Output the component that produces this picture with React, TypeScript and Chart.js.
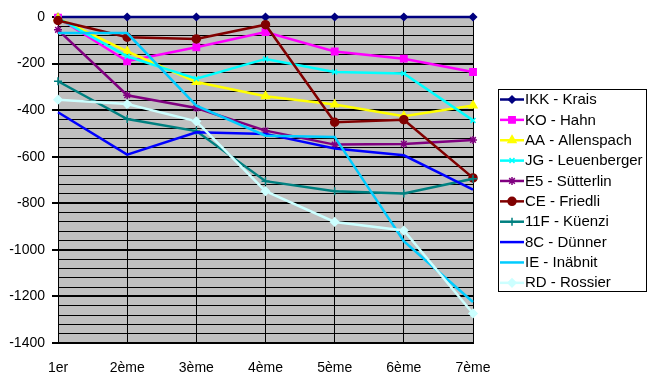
import React, { useEffect, useRef } from "react";
import { Chart, registerables } from "chart.js";
import { drawPoint } from "chart.js/helpers";

Chart.register(...registerables);

const categories = ["1er", "2ème", "3ème", "4ème", "5ème", "6ème", "7ème"];

const seriesNames = [
  "IKK - Krais",
  "KO - Hahn",
  "AA - Allenspach",
  "JG - Leuenberger",
  "E5 - Sütterlin",
  "CE - Friedli",
  "11F - Küenzi",
  "8C - Dünner",
  "IE - Inäbnit",
  "RD - Rossier",
];

const ikk = [0, 0, 0, 0, 0, 0, 0];
const ko = [-3, -190, -130, -65, -148, -179, -236];
const aa = [-5, -148, -279, -340, -376, -426, -380];
const jg = [-5, -169, -265, -180, -236, -243, -444];
const e5 = [-55, -336, -391, -488, -548, -545, -528];
const ce = [-15, -87, -94, -33, -452, -441, -691];
const f11 = [-276, -438, -490, -705, -748, -758, -695];
const c8 = [-409, -591, -495, -502, -565, -594, -741];
const ie = [-69, -69, -381, -510, -515, -963, -1224];
const rd = [-355, -374, -448, -748, -880, -917, -1273];

const seriesValues = [ikk, ko, aa, jg, e5, ce, f11, c8, ie, rd];

const seriesColors = [
  "#000080",
  "#FF00FF",
  "#FFFF00",
  "#00FFFF",
  "#800080",
  "#800000",
  "#008080",
  "#0000FF",
  "#00CCFF",
  "#CCFFFF",
];

const seriesMarkers: (string | false)[] = [
  "rectRot",
  "rect",
  "triangle",
  "crossRot",
  "star",
  "circle",
  "cross",
  false,
  false,
  "rectRot",
];

const markerRadius = [3.5, 4.5, 4.5, 3.5, 4, 4, 4, 0, 0, 4];

const yTickValues = [0, -200, -400, -600, -800, -1000, -1200, -1400];

const FONT = "'Liberation Sans', Arial, sans-serif";

const plotBg = {
  id: "plotBg",
  beforeDraw(chart: any) {
    const { ctx, chartArea } = chart;
    ctx.save();
    ctx.fillStyle = "#C0C0C0";
    ctx.fillRect(chartArea.left, chartArea.top, chartArea.right - chartArea.left, chartArea.bottom - chartArea.top);
    ctx.restore();
  },
};

const customLegend = {
  id: "customLegend",
  afterDraw(chart: any) {
    const ctx = chart.ctx;
    const x0 = 498.5;
    const y0 = 89.5;
    const w = 148;
    const h = 202;
    ctx.save();
    ctx.fillStyle = "#FFFFFF";
    ctx.fillRect(x0, y0, w, h);
    ctx.strokeStyle = "#000000";
    ctx.lineWidth = 1;
    ctx.strokeRect(x0, y0, w, h);
    ctx.font = "15px " + FONT;
    ctx.textBaseline = "middle";
    ctx.textAlign = "left";
    chart.data.datasets.forEach((ds: any, i: number) => {
      const cy = 99.5 + i * 20.37;
      ctx.strokeStyle = ds.borderColor;
      ctx.lineWidth = 2.5;
      ctx.beginPath();
      ctx.moveTo(500, cy);
      ctx.lineTo(524, cy);
      ctx.stroke();
      if (ds.pointStyle) {
        ctx.fillStyle = ds.borderColor;
        ctx.strokeStyle = ds.borderColor;
        ctx.lineWidth = 1.5;
        drawPoint(
          ctx,
          {
            pointStyle: ds.pointStyle,
            radius: ds.pointRadius,
            rotation: 0,
            borderWidth: 1.5,
          } as any,
          512,
          cy
        );
      }
      ctx.fillStyle = "#000000";
      ctx.fillText(ds.label, 525, cy + 0.5);
    });
    ctx.restore();
  },
};

export default function App() {
  const canvasRef = useRef<HTMLCanvasElement | null>(null);

  useEffect(() => {
    if (!canvasRef.current) return;
    Chart.defaults.font.family = FONT;
    const datasets = seriesNames.map((name, i) => ({
      label: name,
      data: seriesValues[i],
      borderColor: seriesColors[i],
      backgroundColor: seriesColors[i],
      borderWidth: 2.5,
      pointStyle: seriesMarkers[i] as any,
      pointRadius: markerRadius[i],
      pointBorderWidth: 1.5,
      pointBorderColor: seriesColors[i],
      pointBackgroundColor: seriesColors[i],
      tension: 0,
      clip: false as any,
      order: -i,
    }));

    const chart = new Chart(canvasRef.current, {
      type: "line",
      data: { labels: categories, datasets },
      plugins: [plotBg, customLegend],
      options: {
        animation: false,
        responsive: false,
        devicePixelRatio: 1,
        layout: { padding: { top: 17, right: 183, bottom: 0, left: 0 } },
        plugins: {
          legend: { display: false },
          tooltip: { enabled: false },
        },
        scales: {
          x: {
            type: "category",
            offset: false,
            afterFit(scale: any) {
              scale.height = 41;
            },
            grid: {
              color: "#000000",
              lineWidth: 1,
              drawTicks: false,
            },
            border: { color: "#000000", width: 2 },
            ticks: {
              color: "#000000",
              font: { size: 14, family: FONT },
              padding: 17,
              maxRotation: 0,
              autoSkip: false,
            },
          },
          y: {
            min: -1400,
            max: 0,
            afterFit(scale: any) {
              scale.width = 58;
            },
            ticks: {
              stepSize: 40,
              autoSkip: false,
              color: "#000000",
              font: { size: 14, family: FONT },
              padding: 7,
              callback: (v: any) => (yTickValues.includes(Number(v)) ? String(v) : ""),
            },
            grid: {
              color: "#000000",
              lineWidth: (ctx: any) => (ctx.tick && ctx.tick.value % 200 === 0 ? 2 : 1),
              tickLength: 6,
              tickColor: (ctx: any) => (ctx.tick && ctx.tick.value % 200 === 0 ? "#000000" : "rgba(0,0,0,0)"),
            },
            border: { color: "#000000", width: 1 },
          },
        },
      },
    });
    return () => chart.destroy();
  }, []);

  return (
    <div style={{ position: "absolute", left: 0, top: 0, width: 656, height: 384, background: "#FFFFFF" }}>
      <canvas ref={canvasRef} width={656} height={384} style={{ display: "block" }} />
    </div>
  );
}
